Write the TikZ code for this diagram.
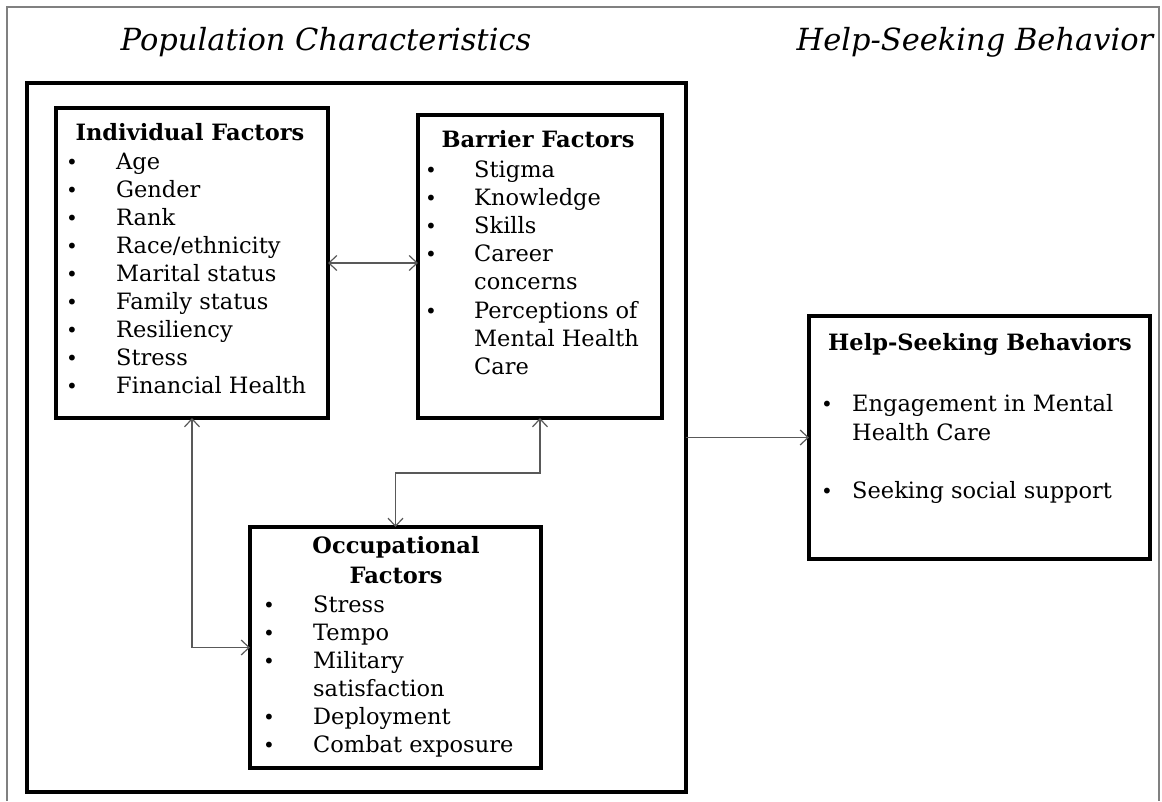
\documentclass[tikz,border=0pt]{standalone}
\usepackage{fontspec}
\setmainfont{DejaVu Serif}
\usetikzlibrary{arrows.meta}
\begin{document}
\begin{tikzpicture}[x=1pt,y=-1pt,
  box/.style={draw, line width=3.5pt, inner sep=0pt, outer sep=0pt, anchor=north west},
  tip/.tip={Straight Barb[length=8pt,width=15pt,line width=1.2pt]},
  conn/.style={draw=black!65, line width=1.2pt},
  txt/.style={anchor=base west, inner sep=0pt, font=\fontsize{22.5}{28}\selectfont},
  bul/.style={anchor=base, inner sep=0pt, font=\fontsize{20}{28}\selectfont},
  head/.style={anchor=base, inner sep=0pt, font=\fontsize{22.5}{28}\selectfont\bfseries},
  title/.style={anchor=base, inner sep=0pt, font=\fontsize{30.5}{34}\selectfont\itshape}]
\useasboundingbox (0,0) rectangle (1162,801);
% page frame
\draw[black!50, line width=1.5pt] (7,801) -- (7,7) -- (1159,7) -- (1159,801);
% titles
\node[title] (t1) at (326,50) {Population Characteristics};
\node[title] (t2) at (975,50) {Help-Seeking Behavior};
% boxes
\node[box, minimum width=659pt, minimum height=709pt] (outer) at (27,83) {};
\node[box, minimum width=272pt, minimum height=310pt] (ind) at (56,108) {};
\node[box, minimum width=244pt, minimum height=303pt] (bar) at (418,115) {};
\node[box, minimum width=291pt, minimum height=241pt] (occ) at (250,527) {};
\node[box, minimum width=341pt, minimum height=243pt] (help) at (809,316) {};
% Individual factors
\node[head] (ih) at (190,140) {Individual Factors};
\foreach \t [count=\i] in {Age,Gender,Rank,Race/ethnicity,Marital status,Family status,Resiliency,Stress,Financial Health}{
  \node[bul] (ib\i) at (72,{169+28.1*(\i-1)}) {•};
  \node[txt] (it\i) at (116,{169+28.1*(\i-1)}) {\t};
}
% Barrier factors
\node[head] (bh) at (538,147) {Barrier Factors};
\node[bul] (bb1) at (431,177) {•};
\node[txt] (bt1) at (474,177) {Stigma};
\node[bul] (bb2) at (431,205) {•};
\node[txt] (bt2) at (474,205) {Knowledge};
\node[bul] (bb3) at (431,233) {•};
\node[txt] (bt3) at (474,233) {Skills};
\node[bul] (bb4) at (431,261) {•};
\node[txt] (bt4) at (474,261) {Career};
\node[txt] (bt5) at (474,289) {concerns};
\node[bul] (bb6) at (431,318) {•};
\node[txt] (bt6) at (474,318) {Perceptions of};
\node[txt] (bt7) at (474,346) {Mental Health};
\node[txt] (bt8) at (474,374) {Care};
% Occupational factors
\node[head] (oh1) at (396,553) {Occupational};
\node[head] (oh2) at (396,583) {Factors};
\node[bul] (ob1) at (269,612) {•};
\node[txt] (ot1) at (313,612) {Stress};
\node[bul] (ob2) at (269,640) {•};
\node[txt] (ot2) at (313,640) {Tempo};
\node[bul] (ob3) at (269,668) {•};
\node[txt] (ot3) at (313,668) {Military};
\node[txt] (ot4) at (313,696) {satisfaction};
\node[bul] (ob5) at (269,724) {•};
\node[txt] (ot5) at (313,724) {Deployment};
\node[bul] (ob6) at (269,752) {•};
\node[txt] (ot6) at (313,752) {Combat exposure};
% Help-seeking behaviors
\node[head] (hh) at (980,350) {Help-Seeking Behaviors};
\node[bul] (hb1) at (827,411) {•};
\node[txt] (ht1) at (852,411) {Engagement in Mental};
\node[txt] (ht2) at (852,440) {Health Care};
\node[bul] (hb3) at (827,498) {•};
\node[txt] (ht3) at (852,498) {Seeking social support};
% connectors
\coordinate (mid) at (0,473);
\draw[conn, tip-tip] (ind.east) -- (ind.east -| bar.west);
\draw[conn, tip-tip] (ind.south) |- (occ.west);
\draw[conn, tip-tip] (bar.south) -- (bar.south |- mid) -| (occ.north);
\draw[conn, -tip] (help.west -| outer.east) -- (help.west);
\end{tikzpicture}
\end{document}
